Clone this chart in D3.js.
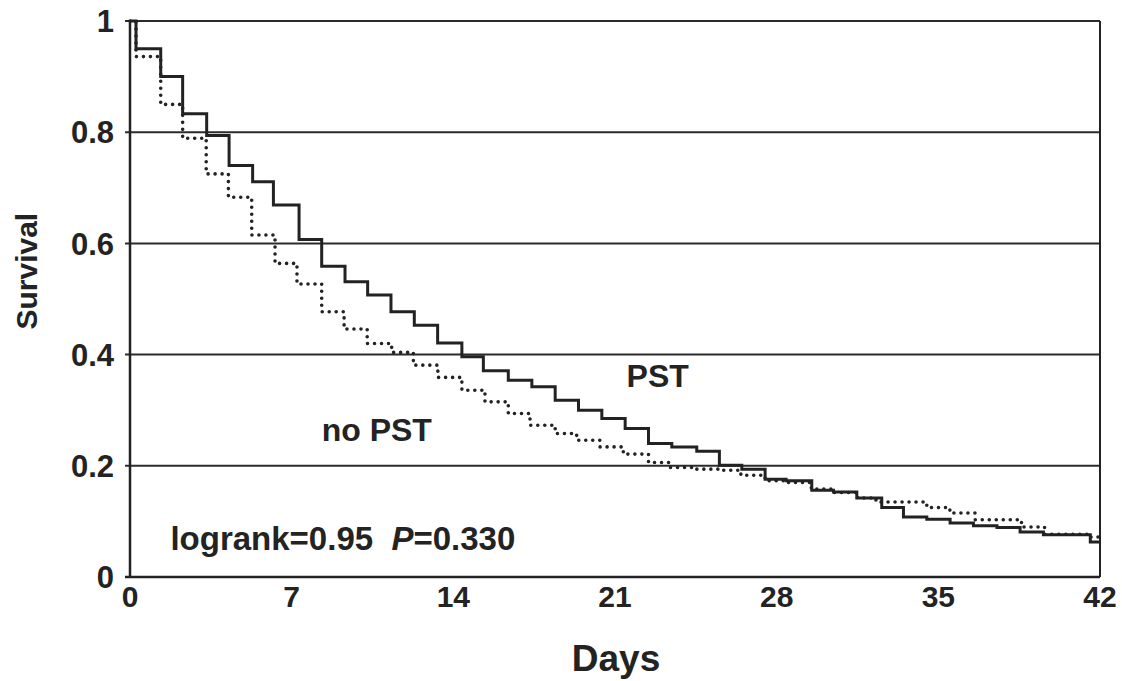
<!DOCTYPE html>
<html>
<head>
<meta charset="utf-8">
<script src="https://cdn.jsdelivr.net/npm/d3@7"></script>
<style>
  body { margin: 0; background: #fff; }
  text { font-family: "Liberation Sans", Arial, sans-serif; font-weight: bold; fill: #232323; }
</style>
</head>
<body>
<div class="chart"></div>
<script>
// Kaplan-Meier survival
var pstDays = [0, 0.26, 1.33, 2.28, 3.32, 4.29, 5.31, 6.21, 7.32, 8.30, 9.31, 10.29, 11.30, 12.31, 13.32,
  14.37, 15.30, 16.38, 17.40, 18.41, 19.42, 20.43, 21.44, 22.45, 23.46, 24.54, 25.52, 26.49, 27.50,
  28.41, 29.52, 30.46, 31.47, 32.55, 33.49, 34.50, 35.51, 36.52, 37.54, 38.54, 39.55, 41.58, 42];
var pstSurv = [1, 0.95, 0.90, 0.833, 0.794, 0.740, 0.711, 0.669, 0.607, 0.559, 0.531, 0.507, 0.477, 0.453, 0.421,
  0.396, 0.371, 0.354, 0.342, 0.318, 0.300, 0.285, 0.267, 0.240, 0.234, 0.226, 0.201, 0.194, 0.176,
  0.173, 0.156, 0.153, 0.142, 0.125, 0.108, 0.104, 0.097, 0.092, 0.089, 0.081, 0.076, 0.063, 0.063];

var noPstDays = [0, 0.26, 1.33, 2.28, 3.30, 4.26, 5.27, 6.28, 7.23, 8.30, 9.27, 10.27, 11.33, 12.27, 13.33,
  14.37, 15.37, 16.38, 17.32, 18.41, 19.34, 20.35, 21.36, 22.45, 23.39, 24.5, 25.5, 26.45, 27.5,
  28.5, 29.5, 30.5, 31.5, 32.3, 34.5, 35.5, 36.6, 38.6, 39.6, 41.5, 42];
var noPstSurv = [1, 0.936, 0.850, 0.789, 0.725, 0.683, 0.615, 0.564, 0.527, 0.477, 0.446, 0.420, 0.404, 0.381, 0.359,
  0.336, 0.315, 0.294, 0.273, 0.258, 0.246, 0.234, 0.221, 0.206, 0.197, 0.194, 0.192, 0.183, 0.173,
  0.170, 0.158, 0.152, 0.142, 0.135, 0.125, 0.115, 0.103, 0.090, 0.077, 0.072, 0.072];

var xTicks = [0, 7, 14, 21, 28, 35, 42];
var yTicks = [0, 0.2, 0.4, 0.6, 0.8, 1];
var yTickLabels = ["0", "0.2", "0.4", "0.6", "0.8", "1"];

var svgWidth = 1122;
var svgHeight = 681;

var margin = { top: 21, right: 22, bottom: 104, left: 130 };
var width = svgWidth - margin.left - margin.right;
var height = svgHeight - margin.top - margin.bottom;

var svg = d3.select(".chart")
  .append("svg")
  .attr("width", svgWidth)
  .attr("height", svgHeight);

var chartGroup = svg.append("g")
  .attr("transform", `translate(${margin.left}, ${margin.top})`);

var xScale = d3.scaleLinear().domain([0, 42]).range([0, width]);
var yScale = d3.scaleLinear().domain([0, 1]).range([height, 0]);

// gridlines (the 1.0 line doubles as the top edge)
chartGroup.selectAll(".grid")
  .data(yTicks.filter(d => d > 0))
  .enter()
  .append("line")
  .attr("x1", -5)
  .attr("x2", width)
  .attr("y1", d => yScale(d))
  .attr("y2", d => yScale(d))
  .attr("stroke", "#2b2b2b")
  .attr("stroke-width", 2);

// frame: left, bottom, right
chartGroup.append("line")
  .attr("x1", 0).attr("x2", 0)
  .attr("y1", yScale(1)).attr("y2", yScale(0))
  .attr("stroke", "#222").attr("stroke-width", 2.5);
chartGroup.append("line")
  .attr("x1", -5).attr("x2", width)
  .attr("y1", yScale(0)).attr("y2", yScale(0))
  .attr("stroke", "#222").attr("stroke-width", 2.5);
chartGroup.append("line")
  .attr("x1", width).attr("x2", width)
  .attr("y1", yScale(1)).attr("y2", yScale(0))
  .attr("stroke", "#222").attr("stroke-width", 2);

// tick labels
chartGroup.selectAll(".ytick")
  .data(yTicks)
  .enter()
  .append("text")
  .attr("x", -16)
  .attr("y", d => yScale(d))
  .attr("dy", "0.36em")
  .attr("text-anchor", "end")
  .attr("font-size", "31px")
  .text((d, i) => yTickLabels[i]);

chartGroup.selectAll(".xtick")
  .data(xTicks)
  .enter()
  .append("text")
  .attr("x", d => xScale(d))
  .attr("y", height + 30)
  .attr("text-anchor", "middle")
  .attr("font-size", "30px")
  .text(d => d);

// survival curves
var line = d3.line()
  .x(d => xScale(d[0]))
  .y(d => yScale(d[1]))
  .curve(d3.curveStepAfter);

chartGroup.append("path")
  .datum(noPstDays.map((d, i) => [d, noPstSurv[i]]))
  .attr("d", line)
  .attr("fill", "none")
  .attr("stroke", "#222")
  .attr("stroke-width", 3.6)
  .attr("stroke-linecap", "round")
  .attr("stroke-dasharray", "0 7");

chartGroup.append("path")
  .datum(pstDays.map((d, i) => [d, pstSurv[i]]))
  .attr("d", line)
  .attr("fill", "none")
  .attr("stroke", "#222")
  .attr("stroke-width", 3);

// labels
chartGroup.append("text")
  .attr("x", xScale(21.5))
  .attr("y", yScale(0.342))
  .attr("font-size", "32px")
  .text("PST");

chartGroup.append("text")
  .attr("x", xScale(8.3))
  .attr("y", yScale(0.244))
  .attr("font-size", "32px")
  .text("no PST");

var stat = chartGroup.append("text")
  .attr("x", xScale(1.75))
  .attr("y", yScale(0.049))
  .attr("font-size", "33px");
stat.append("tspan").text("logrank=0.95\u00a0\u00a0");
stat.append("tspan").attr("font-style", "italic").text("P");
stat.append("tspan").text("=0.330");

// axis titles
chartGroup.append("text")
  .attr("x", width / 2 + 1)
  .attr("y", height + 94)
  .attr("text-anchor", "middle")
  .attr("font-size", "37px")
  .text("Days");

chartGroup.append("text")
  .attr("transform", "rotate(-90)")
  .attr("x", -(yScale(0.55)))
  .attr("y", -93)
  .attr("text-anchor", "middle")
  .attr("font-size", "30px")
  .text("Survival");
</script>
</body>
</html>
